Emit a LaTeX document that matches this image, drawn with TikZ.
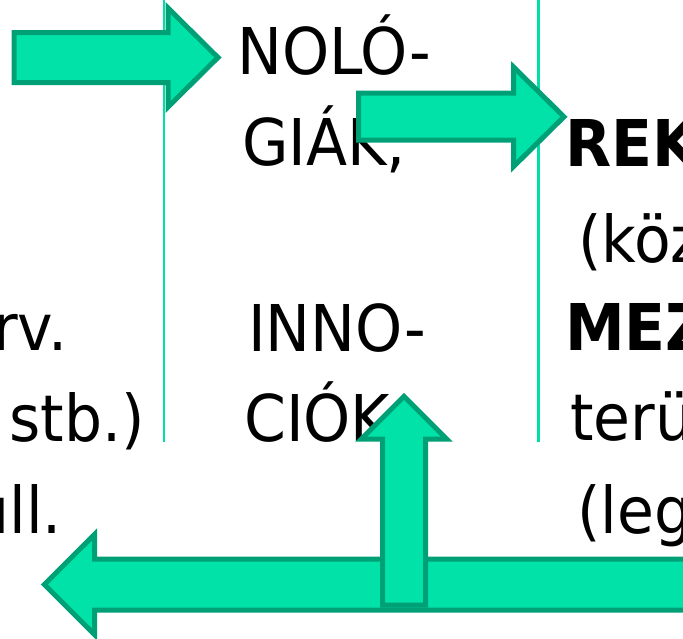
\documentclass[tikz,border=0pt]{standalone}
\usepackage{fontspec}
\setmainfont{DejaVu Sans}[FakeStretch=0.93]
\definecolor{arrowfill}{RGB}{0,226,168}
\definecolor{arrowline}{RGB}{0,160,118}
\definecolor{rulecol}{RGB}{0,222,170}
\tikzset{
  txt/.style={inner sep=0pt, font=\fontsize{64.5}{77}\selectfont, anchor=base west},
  txtr/.style={txt, anchor=base east},
  bigarrow/.style={fill=arrowfill, draw=arrowline, line width=5pt, miter limit=10, line join=miter},
  colrule/.style={draw=rulecol, line width=2.3pt}
}
\begin{document}
\begin{tikzpicture}[x=1pt,y=-1pt]
\useasboundingbox (0,0) rectangle (683,638);
\begin{scope}
\clip (0,0) rectangle (683,638);
% column rules
\coordinate (r1t) at (164,0);
\coordinate (r1b) at (164,442);
\coordinate (r2t) at (538.5,0);
\coordinate (r2b) at (538.5,442);
\draw[colrule] (r1t) -- (r1b);
\draw[colrule] (r2t) -- (r2b);
% left column (clipped)
\node[txtr] (l1) at (68,350) {rv.};
\node[txtr] (l2) at (145,441) {stb.)};
\node[txtr] (l3) at (62,533) {ull.};
% middle column
\node[txt] (m1) at (237,74) {NOLÓ-};
\node[txt] (m2) at (242,165) {GIÁK,};
\node[txt] (m3) at (248,351) {INNO-};
\node[txt] (m4) at (244,441) {CIÓK};
% right column (clipped)
\node[txt, font=\fontsize{64.5}{77}\selectfont\bfseries] (c1) at (565,166) {REK};
\node[txt] (c2) at (578,262) {(köz};
\node[txt, font=\fontsize{64.5}{77}\selectfont\bfseries] (c3) at (565,350) {MEZ};
\node[txt] (c4) at (570,440) {terü};
\node[txt] (c5) at (577,533) {(leg};
% arrows
\draw[bigarrow] (14,32.5) -- (168,32.5) -- (168,8) -- (218,57.5) -- (168,107) -- (168,82.5) -- (14,82.5) -- cycle;
\draw[bigarrow] (358.5,93) -- (513.5,93) -- (513.5,67) -- (564,116.8) -- (513.5,166.6) -- (513.5,140) -- (358.5,140) -- cycle;
\draw[bigarrow] (700,559) -- (94.5,559) -- (94.5,534.5) -- (44.3,584.5) -- (94.5,634.5) -- (94.5,610) -- (700,610) -- cycle;
\draw[bigarrow] (382.5,605) -- (382.5,439.2) -- (361.2,439.2) -- (404,396.3) -- (446.8,439.2) -- (425.5,439.2) -- (425.5,605) -- cycle;
\end{scope}
\end{tikzpicture}
\end{document}
